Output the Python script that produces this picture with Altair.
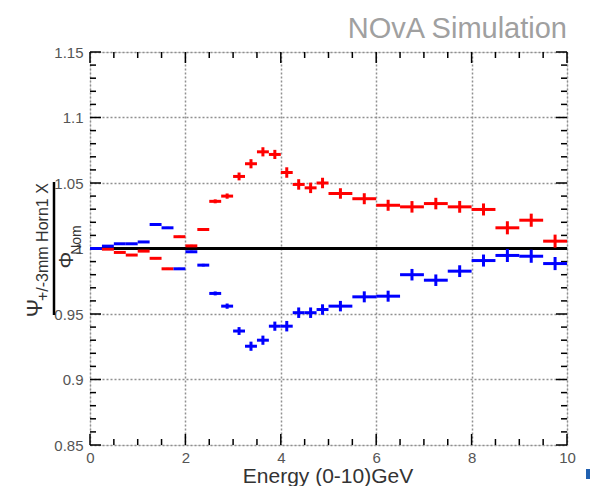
import altair as alt
import pandas as pd

# ---- data ----
bin_lo = [0.0, 0.25, 0.5, 0.75, 1.0, 1.25, 1.5, 1.75, 2.0, 2.25,
          2.5, 2.75, 3.0, 3.25, 3.5, 3.75, 4.0, 4.25, 4.5, 4.75,
          5.0, 5.5, 6.0, 6.5, 7.0, 7.5, 8.0, 8.5, 9.0, 9.5]
bin_hi = [0.25, 0.5, 0.75, 1.0, 1.25, 1.5, 1.75, 2.0, 2.25, 2.5,
          2.75, 3.0, 3.25, 3.5, 3.75, 4.0, 4.25, 4.5, 4.75, 5.0,
          5.5, 6.0, 6.5, 7.0, 7.5, 8.0, 8.5, 9.0, 9.5, 10.0]
red_vals = [1.000, 0.9995, 0.9970, 0.9950, 0.9980, 0.9925, 0.9845, 1.0090, 1.0020, 1.0145,
            1.0360, 1.0400, 1.0550, 1.0647, 1.0738, 1.0718, 1.0580, 1.0489, 1.0463, 1.0500,
            1.0420, 1.0380, 1.0330, 1.0318, 1.0343, 1.0318, 1.0298, 1.0158, 1.0216, 1.0056]
blue_vals = [1.000, 1.0018, 1.0036, 1.0036, 1.0050, 1.0183, 1.0158, 0.9845, 0.9975, 0.9873,
             0.9657, 0.9560, 0.9370, 0.9254, 0.9300, 0.9407, 0.9407, 0.9510, 0.9510, 0.9534,
             0.9560, 0.9631, 0.9636, 0.9800, 0.9758, 0.9827, 0.9908, 0.9947, 0.9941, 0.9885]
errs = [0.0004, 0.0005, 0.0005, 0.0005, 0.0006, 0.0006, 0.0007, 0.0007, 0.0008, 0.0010,
        0.0015, 0.0020, 0.0030, 0.0035, 0.0035, 0.0035, 0.0040, 0.0040, 0.0040, 0.0040,
        0.0040, 0.0042, 0.0042, 0.0044, 0.0044, 0.0045, 0.0046, 0.0050, 0.0050, 0.0050]

x_major = [0, 2, 4, 6, 8, 10]
x_minor = [0.5, 1, 1.5, 2.5, 3, 3.5, 4.5, 5, 5.5, 6.5, 7, 7.5, 8.5, 9, 9.5]
y_major = [0.85, 0.9, 0.95, 1.0, 1.05, 1.1, 1.15]
y_minor = [round(0.85 + 0.01 * i, 2) for i in range(31) if i % 5 != 0]

title_text = "NOvA Simulation"
xtitle_text = "Energy (0-10)GeV"

W, H = 477, 393
FONT = "Liberation Sans"

rows = []
for name, vals in (("red", red_vals), ("blue", blue_vals)):
    for lo, hi, v, e in zip(bin_lo, bin_hi, vals, errs):
        rows.append({"s": name, "lo": lo, "hi": hi, "mid": (lo + hi) / 2,
                     "v": v, "elo": v - e, "ehi": v + e})
df = pd.DataFrame(rows)

xscale = alt.Scale(domain=[0, 10], nice=False, zero=False)
yscale = alt.Scale(domain=[0.85, 1.15], nice=False, zero=False)
xaxis = alt.Axis(values=x_major, grid=True, ticks=False, domain=False, title=None,
                 labelFontSize=15, labelColor="#555555", labelFont=FONT, labelPadding=5,
                 labelFlush=False, labelOverlap=False, gridDash=[2, 2], gridColor="#909090",
                 gridWidth=1.5, format="d")
yaxis = alt.Axis(values=y_major, grid=True, ticks=False, domain=False, title=None,
                 labelFontSize=15, labelColor="#555555", labelFont=FONT, labelPadding=7,
                 labelFlush=False, labelOverlap=False, gridDash=[2, 2], gridColor="#909090",
                 gridWidth=1.5, format=".2~f")


def X(f):
    return alt.X(f, type="quantitative", scale=xscale, axis=xaxis)


def Y(f):
    return alt.Y(f, type="quantitative", scale=yscale, axis=yaxis)


# inward ticks
ymaj = pd.DataFrame({"t": y_major})
ymin = pd.DataFrame({"t": y_minor})
xmaj = pd.DataFrame({"t": x_major})
xmin = pd.DataFrame({"t": x_minor})

layers = []
for d, ln in ((ymaj, 11), (ymin, 6)):
    layers.append(alt.Chart(d).mark_rule(color="black", strokeWidth=1.5).encode(
        y=Y("t"), x=alt.value(0), x2=alt.value(ln)))
    layers.append(alt.Chart(d).mark_rule(color="black", strokeWidth=1.5).encode(
        y=Y("t"), x=alt.value(W - ln), x2=alt.value(W)))
for d, ln in ((xmaj, 11), (xmin, 6)):
    layers.append(alt.Chart(d).mark_rule(color="black", strokeWidth=1.5).encode(
        x=X("t"), y=alt.value(H - ln), y2=alt.value(H)))
    layers.append(alt.Chart(d).mark_rule(color="black", strokeWidth=1.5).encode(
        x=X("t"), y=alt.value(0), y2=alt.value(ln)))

# unity line
unity = pd.DataFrame({"a": [0.0], "b": [10.0], "v": [1.0]})
layers.append(alt.Chart(unity).mark_rule(color="black", strokeWidth=3).encode(
    x=X("a"), x2="b:Q", y=Y("v")))

for name, col in (("red", "#ff0000"), ("blue", "#0000ff")):
    sub = df[df.s == name]
    layers.append(alt.Chart(sub).mark_rule(color=col, strokeWidth=3).encode(
        x=X("lo"), x2="hi:Q", y=Y("v")))
    layers.append(alt.Chart(sub).mark_rule(color=col, strokeWidth=3).encode(
        x=X("mid"), y=Y("elo"), y2="ehi:Q"))

one = pd.DataFrame({"k": [0]})


def txt(s, x, y, size, color="#333333", angle=0, align="center", baseline="middle"):
    kw = dict(font=FONT, fontSize=size, color=color, align=align, baseline=baseline)
    if angle:
        kw["angle"] = angle
    return alt.Chart(one).mark_text(**kw).encode(
        text=alt.value(s), x=alt.value(x), y=alt.value(y))


layers.append(txt(title_text, W, -14, 29, color="#a0a0a0", align="right", baseline="alphabetic"))
layers.append(txt(xtitle_text, 238, 431, 21, color="#333333", baseline="alphabetic"))
layers.append(txt("Ψ", -55, 256, 22, angle=270))
layers.append(txt("+/-3mm Horn1 X", -47, 249, 16, angle=270, align="left"))
layers.append(txt("Φ", -23, 208, 21, angle=270))
layers.append(txt("Nom", -13, 188, 14, angle=270))
layers.append(alt.Chart(one).mark_rule(color="black", strokeWidth=2.5).encode(
    x=alt.value(-36), y=alt.value(130), y2=alt.value(263)))
layers.append(alt.Chart(one).mark_rect(color="#2060b0").encode(
    x=alt.value(496), x2=alt.value(500), y=alt.value(417), y2=alt.value(427)))

chart = alt.layer(*layers).properties(
    width=W, height=H,
    padding={"left": 90, "top": 52, "right": 26, "bottom": 41},
    autosize=alt.AutoSizeParams(type="none"),
).configure_view(stroke="black", strokeWidth=3).configure(background="white")

chart.save("out.html", embed_options={"renderer": "svg", "actions": False})
